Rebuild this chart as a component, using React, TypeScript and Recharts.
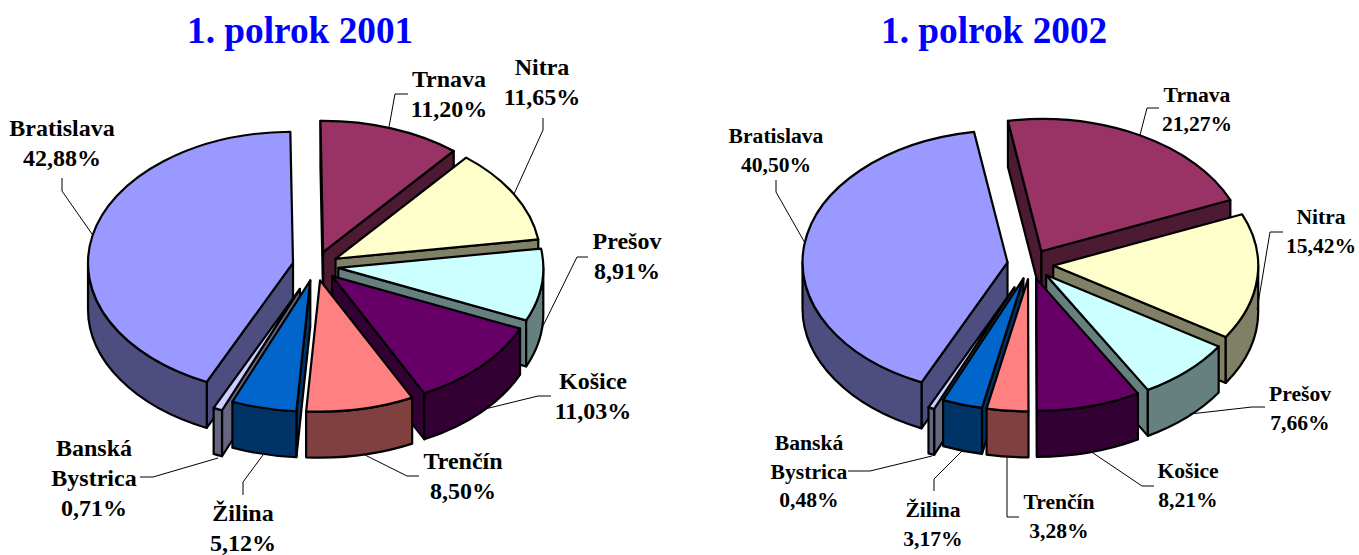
import React from "react";
import { PieChart, Pie } from "recharts";

const regions = ["Bratislava", "Trnava", "Nitra", "Prešov", "Košice", "Trenčín", "Žilina", "Banská Bystrica"];
const values2001 = [42.88, 11.2, 11.65, 8.91, 11.03, 8.5, 5.12, 0.71];
const values2002 = [40.5, 21.27, 15.42, 7.66, 8.21, 3.28, 3.17, 0.48];
const topColors = ["#9999FF", "#993366", "#FFFFCC", "#CCFFFF", "#660066", "#FF8080", "#0066CC", "#CCCCFF"];
const wallColors = ["#4D4D80", "#4D1A33", "#808066", "#668080", "#330033", "#804040", "#003366", "#666680"];
const explodeByRegion = [23, 23, 23, 23, 23, 23, 23, 39];

// Painter's order: clockwise part first, then the counter-clockwise part, each back to front
const clockwiseOrder = [1, 2, 3, 4];
const counterOrder = [0, 7, 6, 5];

const rows = (vals: number[], order: number[]) =>
  order.map((i) => ({ name: regions[i], value: vals[i], fill: topColors[i], wall: wallColors[i], region: i }));
const total = (vals: number[], order: number[]) => order.reduce((s, i) => s + vals[i], 0);

// annotation layout: centre x, first baseline, leader polyline
type LabelLayout = { x: number; y: number; line: number[][] };
const labels2001: LabelLayout[] = [
  { x: 62, y: 136, line: [[62, 178], [62, 191], [92, 234]] },
  { x: 449, y: 87, line: [[408, 94], [395, 94], [389, 127]] },
  { x: 542, y: 75, line: [[543, 118], [543, 130], [514, 194]] },
  { x: 627, y: 249, line: [[588, 257], [577, 257], [541, 330]] },
  { x: 593, y: 389, line: [[551, 396], [538, 396], [485, 409]] },
  { x: 463, y: 469, line: [[419, 476], [407, 476], [365, 455]] },
  { x: 243, y: 521, line: [[243, 495], [243, 482], [263, 455]] },
  { x: 94, y: 456, line: [[140, 477], [153, 477], [218, 458]] },
];
const labels2002: LabelLayout[] = [
  { x: 776, y: 143, line: [[776, 180], [776, 192], [805, 243]] },
  { x: 1197, y: 102, line: [[1159, 108], [1147, 108], [1140, 135]] },
  { x: 1321, y: 224, line: [[1283, 232], [1270, 232], [1257, 310]] },
  { x: 1300, y: 401, line: [[1265, 407], [1252, 407], [1190, 414]] },
  { x: 1188, y: 478, line: [[1154, 486], [1142, 486], [1090, 451]] },
  { x: 1059, y: 509, line: [[1019, 517], [1007, 517], [1007, 456]] },
  { x: 933, y: 517, line: [[934, 491], [934, 479], [963, 450]] },
  { x: 809, y: 450, line: [[848, 471], [870, 471], [932, 456]] },
];

const DEPTH = 46;
const RAD = Math.PI / 180;
const OUT = "#000";
const SW = 2.2;

const sliceShape = (squash: number) => (props: any) => {
  const { cx, cy, outerRadius: rx, startAngle, endAngle } = props;
  const wall = props.wall ?? props.payload?.wall;
  const fill = props.fill ?? props.payload?.fill;
  const region = props.region ?? props.payload?.region;
  const explode = explodeByRegion[region];
  const ry = rx * squash;
  const t0 = 90 - Math.max(startAngle, endAngle);
  const t1 = 90 - Math.min(startAngle, endAngle);
  const mid = ((t0 + t1) / 2) * RAD;
  const ox = cx + explode * Math.sin(mid);
  const oy = cy - explode * squash * Math.cos(mid);
  const pt = (t: number, dz = 0): [number, number] => [ox + rx * Math.sin(t * RAD), oy - ry * Math.cos(t * RAD) + dz];
  const arc = (a: number, b: number, dz = 0) => {
    const [x, y] = pt(b, dz);
    return `A${rx} ${ry} 0 ${Math.abs(b - a) > 180 ? 1 : 0} ${b > a ? 1 : 0} ${x} ${y}`;
  };
  const a0 = pt(t0);
  const top = `M${ox} ${oy}L${a0[0]} ${a0[1]}${arc(t0, t1)}Z`;
  const radial = (t: number) => {
    const r = pt(t);
    return `M${ox} ${oy}L${r[0]} ${r[1]}L${r[0]} ${r[1] + DEPTH}L${ox} ${oy + DEPTH}Z`;
  };
  const walls: string[] = [];
  if (Math.sin(t0 * RAD) < 0) walls.push(radial(t0));
  if (Math.sin(t1 * RAD) > 0) walls.push(radial(t1));
  const outer: string[] = [];
  for (const shift of [-360, 0, 360]) {
    const a = Math.max(t0 + shift, 90);
    const b = Math.min(t1 + shift, 270);
    if (b > a) {
      const s = pt(a);
      const e = pt(b, DEPTH);
      outer.push(`M${s[0]} ${s[1]}${arc(a, b)}L${e[0]} ${e[1]}${arc(b, a, DEPTH)}Z`);
    }
  }
  return (
    <g>
      {walls.map((d, i) => (
        <path key={i} d={d} fill={wall} stroke={OUT} strokeWidth={SW} strokeLinejoin="round" />
      ))}
      {outer.map((d, i) => (
        <path key={i} d={d} fill={wall} stroke={OUT} strokeWidth={SW} strokeLinejoin="round" />
      ))}
      <path d={top} fill={fill} stroke={OUT} strokeWidth={SW} strokeLinejoin="round" />
    </g>
  );
};

const labelRenderer = (layout: LabelLayout[], size: number, gap: number) => (p: any) => {
  const i: number = p.region ?? p.payload?.region;
  const l = layout[i];
  const val = p.value ?? p.payload?.value;
  const lines = [...regions[i].split(" "), `${Number(val).toFixed(2).replace(".", ",")}%`];
  return (
    <g key={i}>
      <polyline points={l.line.map((q) => q.join(",")).join(" ")} fill="none" stroke="#000" strokeWidth={1} />
      <text textAnchor="middle" fontFamily="Liberation Serif" fontWeight="bold" fontSize={size} fill="#000">
        {lines.map((t, k) => (
          <tspan key={k} x={l.x} y={l.y + k * gap}>
            {t}
          </tspan>
        ))}
      </text>
    </g>
  );
};

const titleStyle = (left: number): React.CSSProperties => ({
  position: "absolute",
  left,
  top: 10,
  font: "bold 37.3px 'Liberation Serif'",
  color: "#0000FF",
  whiteSpace: "nowrap",
  lineHeight: "42px",
});

const chartPies = (vals: number[], startTop: number, cx: number, cy: number, r: number, squash: number, layout: LabelLayout[], size: number, gap: number) => {
  const common = {
    dataKey: "value",
    nameKey: "name",
    cx,
    cy,
    outerRadius: r,
    isAnimationActive: false,
    shape: sliceShape(squash),
    label: labelRenderer(layout, size, gap),
    labelLine: false,
  };
  return [
    <Pie key="cw" {...common} data={rows(vals, clockwiseOrder)} startAngle={startTop} endAngle={startTop - total(vals, clockwiseOrder) * 3.6} />,
    <Pie key="ccw" {...common} data={rows(vals, counterOrder)} startAngle={startTop} endAngle={startTop + total(vals, counterOrder) * 3.6} />,
  ];
};

export default function App() {
  return (
    <div style={{ position: "absolute", left: 0, top: 0, width: 1359, height: 555, background: "#fff", overflow: "hidden" }}>
      <div style={titleStyle(187)}>1. polrok 2001</div>
      <div style={titleStyle(881)}>1. polrok 2002</div>
      <PieChart width={1359} height={555} margin={{ top: 0, right: 0, bottom: 0, left: 0 }} style={{ position: "absolute", left: 0, top: 0 }}>
        {chartPies(values2001, 90.75, 315.5, 266, 205, 0.64, labels2001, 24, 30)}
        {chartPies(values2002, 99.4, 1030.3, 264.3, 205, 0.645, labels2002, 21.6, 28.6)}
      </PieChart>
    </div>
  );
}
